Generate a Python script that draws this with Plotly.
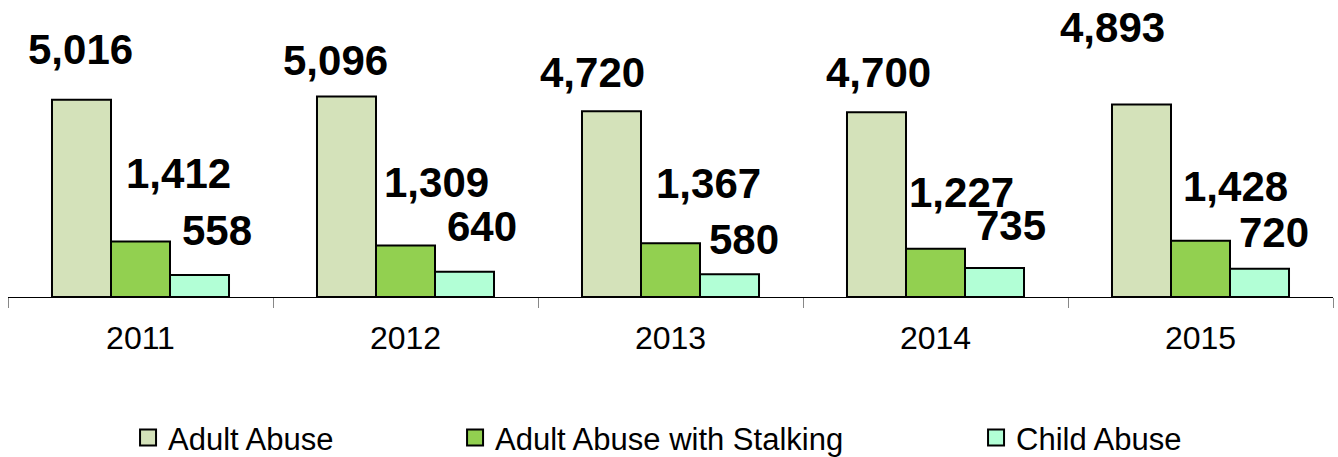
import plotly.graph_objects as go

# data
years = ['2011', '2012', '2013', '2014', '2015']
adult_abuse = [5016, 5096, 4720, 4700, 4893]
adult_stalking = [1412, 1309, 1367, 1227, 1428]
child_abuse = [558, 640, 580, 735, 720]

series = [
    ('Adult Abuse', adult_abuse, '#D4E2BA'),
    ('Adult Abuse with Stalking', adult_stalking, '#92D050'),
    ('Child Abuse', child_abuse, '#B2FFD6'),
]

# hand placed data labels (pixel nudges, like the original chart)
label_dx = [[-1, -11, -19, 2, -29],
            [38, 31, 38, 26, 35],
            [17, 17, 14, 16, 14]]
label_dy = [[50, 36, 39, 40, 77],
            [68, 63, 60, 56, 54],
            [45, 45, 35, 43, 36]]

FONT = 'Arial, Liberation Sans, sans-serif'
bar_px = 59.2
legend_x = [0.0906, 0.3374, 0.7306]

fig = go.Figure()

for i, (name, vals, color) in enumerate(series):
    fig.add_trace(go.Bar(
        x=years, y=vals, name=name,
        marker=dict(color=color, line=dict(color='black', width=2)),
        showlegend=False,
    ))
    # legend entry
    fig.add_trace(go.Scatter(
        x=[None], y=[None], mode='markers', name=name,
        marker=dict(symbol='square', size=16, color=color,
                    line=dict(color='black', width=2)),
        legend='legend' if i == 0 else f'legend{i+1}',
    ))
    for j, v in enumerate(vals):
        # category index so '2012' isn't read as position 2012
        fig.add_annotation(
            x=j, y=v, text=f'{v:,}', showarrow=False,
            xshift=(i - 1) * bar_px + label_dx[i][j], yshift=label_dy[i][j],
            font=dict(family=FONT, size=42, color='black', weight='bold'),
        )

leg = dict(orientation='h', y=-0.597, yanchor='middle', xanchor='left',
           font=dict(family=FONT, size=31, color='black'),
           bgcolor='rgba(0,0,0,0)')

fig.update_layout(
    width=1338, height=457,
    margin=dict(l=8, r=5, t=61, b=160, autoexpand=False),
    barmode='group', bargap=0.332, bargroupgap=0,
    plot_bgcolor='white', paper_bgcolor='white',
    legend=dict(leg, x=legend_x[0]),
    legend2=dict(leg, x=legend_x[1]),
    legend3=dict(leg, x=legend_x[2]),
    xaxis=dict(type='category', categoryorder='array', categoryarray=years,
               range=[-0.5, len(years) - 0.5],
               showline=True, linecolor='black', linewidth=1,
               ticks='outside', tickson='boundaries', ticklen=10,
               tickcolor='#888888', tickwidth=1, tickangle=0,
               ticklabelstandoff=13,
               tickfont=dict(family=FONT, size=32, color='black'),
               showgrid=False),
    yaxis=dict(range=[0, 6000], visible=False, showgrid=False),
)

# drop the browser's default 8px body margin, hide the modebar
fig.write_html("out.html", config={'displayModeBar': False},
               post_script="document.body.style.margin='0';")
